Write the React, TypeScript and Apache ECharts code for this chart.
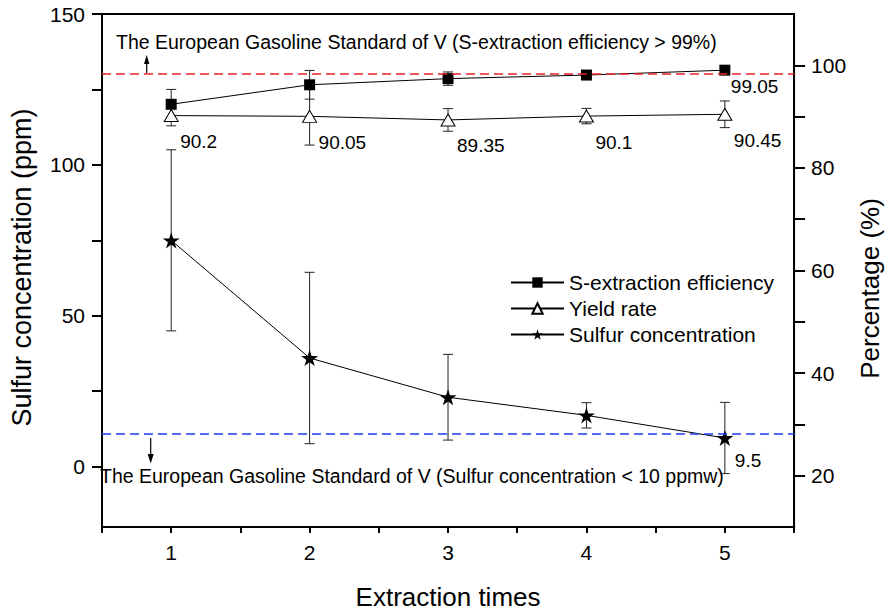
import React, { useEffect, useRef } from 'react';
import * as echarts from 'echarts';

const FONT = '"Liberation Sans", Arial, Helvetica, sans-serif';

const extractionTimes = [1, 2, 3, 4, 5];
const efficiency = [92.4, 96.2, 97.4, 98.1, 99.05];
const efficiencyErr = [2.9, 2.8, 1.3, 0.6, 0.8];
const yieldRate = [90.2, 90.05, 89.35, 90.1, 90.45];
const yieldErr = [2.0, 5.6, 2.2, 1.5, 2.6];
const sulfur = [75, 36, 23, 17, 9.5];
const sulfurErr = [30, 28.4, 14.2, 4.2, 11.8];

const efficiencyStandard = 98.4; // drawn on the percentage axis
const sulfurStandard = 11; // drawn on the ppm axis

const xTicks = [0.5, 1, 1.5, 2, 2.5, 3, 3.5, 4, 4.5, 5, 5.5];
const xLabels = [1, 2, 3, 4, 5];
const leftTicks = [0, 25, 50, 75, 100, 125, 150];
const leftLabels = [0, 50, 100, 150];
const rightTicks = [20, 30, 40, 50, 60, 70, 80, 90, 100];
const rightLabels = [20, 40, 60, 80, 100];

const legendNames = ['S-extraction efficiency', 'Yield rate', 'Sulfur concentration'];
const topNote = 'The European Gasoline Standard of V (S-extraction efficiency > 99%)';
const bottomNote = 'The European Gasoline Standard of V (Sulfur concentration < 10 ppmw)';

const STAR =
  'path://M100,0 L122.45,69.1 L195.1,69.1 L136.3,111.8 L158.8,180.9 L100,138.2 L41.2,180.9 L63.7,111.8 L4.9,69.1 L77.55,69.1 Z';

function errorSeries(values: number[], errs: number[], yAxisIndex: number) {
  return {
    type: 'custom',
    yAxisIndex,
    silent: true,
    z: 1,
    data: extractionTimes.map((x, i) => [x, values[i] - errs[i], values[i] + errs[i]]),
    encode: { x: 0, y: [1, 2] },
    renderItem: (_params: any, api: any) => {
      const lo = api.coord([api.value(0), api.value(1)]);
      const hi = api.coord([api.value(0), api.value(2)]);
      const w = 5;
      const style = { stroke: '#222', lineWidth: 1, fill: null };
      return {
        type: 'group',
        children: [
          { type: 'line', shape: { x1: lo[0], y1: lo[1], x2: hi[0], y2: hi[1] }, style },
          { type: 'line', shape: { x1: lo[0] - w, y1: lo[1], x2: lo[0] + w, y2: lo[1] }, style },
          { type: 'line', shape: { x1: hi[0] - w, y1: hi[1], x2: hi[0] + w, y2: hi[1] }, style },
        ],
      };
    },
  };
}

const labelBase = {
  position: 'inside',
  align: 'left',
  verticalAlign: 'middle',
  fontSize: 19,
  color: '#000',
  fontFamily: FONT,
  formatter: (p: any) => String(p.value[1]),
};

export default function App() {
  const ref = useRef<HTMLDivElement>(null);

  useEffect(() => {
    if (!ref.current) return;
    const chart = echarts.init(ref.current, undefined, { renderer: 'svg' });

    const axisLine = { show: true, onZero: false, lineStyle: { color: '#000', width: 2 } };
    const tickStyle = { color: '#000', width: 2 };
    const labelStyle = { fontSize: 21, color: '#000', fontFamily: FONT };
    const nameStyle = { fontSize: 26, color: '#000', fontFamily: FONT };

    chart.setOption({
      animation: false,
      textStyle: { fontFamily: FONT },
      grid: {
        left: 97,
        right: 95,
        top: 14,
        bottom: 82,
        show: true,
        borderColor: '#000',
        borderWidth: 2,
        backgroundColor: 'transparent',
      },
      legend: {
        orient: 'vertical',
        left: 505,
        top: 267,
        itemWidth: 53,
        itemHeight: 13,
        itemGap: 5,
        textStyle: { fontSize: 21, color: '#000', fontFamily: FONT },
        data: legendNames,
      },
      xAxis: {
        type: 'value',
        min: 0.5,
        max: 5.5,
        axisLine,
        axisTick: { show: true, customValues: xTicks, length: 6, lineStyle: tickStyle },
        axisLabel: { ...labelStyle, customValues: xLabels, margin: 15 },
        splitLine: { show: false },
        name: 'Extraction times',
        nameLocation: 'middle',
        nameGap: 57,
        nameTextStyle: nameStyle,
      },
      yAxis: [
        {
          type: 'value',
          position: 'left',
          min: -20,
          max: 150,
          axisLine,
          axisTick: { show: true, customValues: leftTicks, length: 10, lineStyle: tickStyle },
          axisLabel: { ...labelStyle, customValues: leftLabels, margin: 17 },
          splitLine: { show: false },
          name: 'Sulfur concentration (ppm)',
          nameLocation: 'middle',
          nameGap: 67,
          nameTextStyle: { ...nameStyle, fontSize: 27, padding: [0, 0, 0, 6] },
        },
        {
          type: 'value',
          position: 'right',
          min: 10,
          max: 110,
          axisLine,
          axisTick: { show: true, customValues: rightTicks, length: 11, lineStyle: tickStyle },
          axisLabel: { ...labelStyle, customValues: rightLabels, margin: 17 },
          splitLine: { show: false },
          name: 'Percentage (%)',
          nameLocation: 'middle',
          nameGap: 61,
          nameTextStyle: { ...nameStyle, padding: [0, 36, 0, 0] },
        },
      ],
      series: [
        errorSeries(efficiency, efficiencyErr, 1),
        errorSeries(yieldRate, yieldErr, 1),
        errorSeries(sulfur, sulfurErr, 0),
        {
          name: legendNames[0],
          type: 'line',
          yAxisIndex: 1,
          z: 4,
          symbol: 'rect',
          symbolSize: 11,
          itemStyle: { color: '#000' },
          lineStyle: { color: '#000', width: 1 },
          label: { ...labelBase, show: false, offset: [6, 16] },
          data: extractionTimes.map((x, i) =>
            i === 4 ? { value: [x, efficiency[i]], label: { show: true } } : [x, efficiency[i]]
          ),
          markLine: {
            silent: true,
            symbol: 'none',
            label: { show: false },
            lineStyle: { color: '#e8202a', type: [9, 5], width: 1.5 },
            data: [{ yAxis: efficiencyStandard }],
          },
        },
        {
          name: legendNames[1],
          type: 'line',
          yAxisIndex: 1,
          z: 4,
          symbol: 'triangle',
          symbolSize: [14, 12],
          itemStyle: { color: '#fff', borderColor: '#000', borderWidth: 1 },
          lineStyle: { color: '#000', width: 1 },
          label: { ...labelBase, show: true, offset: [9, 26] },
          data: extractionTimes.map((x, i) => [x, yieldRate[i]]),
        },
        {
          name: legendNames[2],
          type: 'line',
          yAxisIndex: 0,
          z: 4,
          symbol: STAR,
          symbolSize: 17,
          symbolKeepAspect: true,
          itemStyle: { color: '#000' },
          lineStyle: { color: '#000', width: 1 },
          label: { ...labelBase, show: false, offset: [10, 23] },
          data: extractionTimes.map((x, i) =>
            i === 4 ? { value: [x, sulfur[i]], label: { show: true } } : [x, sulfur[i]]
          ),
          markLine: {
            silent: true,
            symbol: 'none',
            label: { show: false },
            lineStyle: { color: '#1f3df0', type: [9, 5], width: 1.5 },
            data: [{ yAxis: sulfurStandard }],
          },
        },
      ],
      graphic: [
        {
          type: 'text',
          left: 116,
          top: 32,
          style: { text: topNote, fontSize: 19.5, fill: '#000', fontFamily: FONT },
        },
        {
          type: 'text',
          left: 100,
          top: 466,
          style: { text: bottomNote, fontSize: 19.5, fill: '#000', fontFamily: FONT },
        },
        {
          type: 'line',
          shape: { x1: 146.7, y1: 73, x2: 146.7, y2: 63 },
          style: { stroke: '#000', lineWidth: 1.2 },
        },
        {
          type: 'polygon',
          shape: { points: [[146.7, 55], [144, 64], [149.4, 64]] },
          style: { fill: '#000' },
        },
        {
          type: 'line',
          shape: { x1: 150.7, y1: 438, x2: 150.7, y2: 455 },
          style: { stroke: '#000', lineWidth: 1.2 },
        },
        {
          type: 'polygon',
          shape: { points: [[150.7, 463.5], [147.7, 454], [153.7, 454]] },
          style: { fill: '#000' },
        },
      ],
    });

    return () => chart.dispose();
  }, []);

  return (
    <div
      ref={ref}
      style={{ position: 'fixed', left: 0, top: 0, width: '891px', height: '615px', background: '#fff' }}
    />
  );
}
